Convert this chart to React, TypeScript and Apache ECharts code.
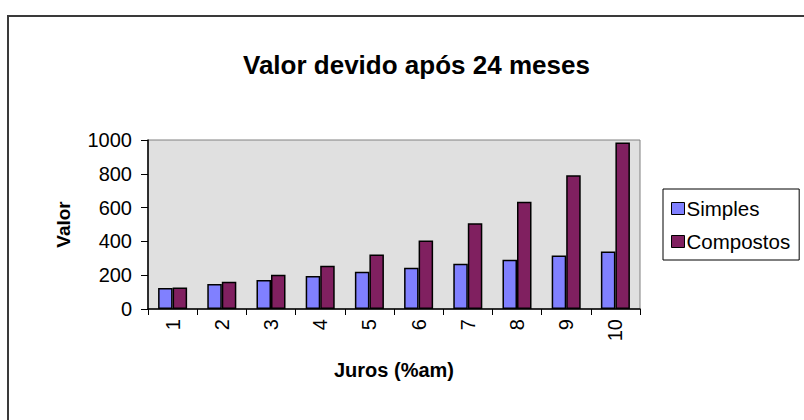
import React, { useEffect, useRef } from "react";
import * as echarts from "echarts";

const categories = ["1", "2", "3", "4", "5", "6", "7", "8", "9", "10"];
const simples = [124, 148, 172, 196, 220, 244, 268, 292, 316, 340];
const compostos = [127, 161, 203, 256, 323, 405, 507, 634, 791, 985];
const yTicks = { min: 0, max: 1000, interval: 200 };

export default function App() {
  const ref = useRef<HTMLDivElement>(null);
  useEffect(() => {
    if (!ref.current) return;
    const chart = echarts.init(ref.current, null, { renderer: "svg" });
    const font = "Arial, 'Liberation Sans', sans-serif";
    chart.setOption({
      animation: false,
      backgroundColor: "#fff",
      title: {
        text: "Valor devido após 24 meses",
        left: 238,
        top: 47,
        textStyle: { fontFamily: font, fontSize: 26, fontWeight: "bold", color: "#000" },
      },
      graphic: [
        {
          type: "rect",
          shape: { x: 8, y: 16, width: 1000, height: 1000 },
          style: { fill: "none", stroke: "#3a3a3a", lineWidth: 2 },
          silent: true,
        },
      ],
      legend: {
        orient: "vertical",
        left: 663,
        top: 189,
        width: 139,
        padding: [9, 9, 8, 8],
        itemGap: 12,
        itemWidth: 13,
        itemHeight: 12,
        icon: "rect",
        borderColor: "#000",
        borderWidth: 1,
        backgroundColor: "#fff",
        textStyle: { fontFamily: font, fontSize: 20.5, color: "#000", padding: [0, 0, 0, -3] },
        itemStyle: { borderColor: "#000", borderWidth: 1 },
        data: ["Simples", "Compostos"],
      },
      grid: {
        left: 148,
        right: 164,
        top: 140,
        bottom: 111,
        show: true,
        backgroundColor: "#E0E0E0",
        borderColor: "#808080",
        borderWidth: 1,
        containLabel: false,
      },
      xAxis: {
        type: "category",
        data: categories,
        name: "Juros (%am)",
        nameLocation: "middle",
        nameGap: 51,
        nameTextStyle: { fontFamily: font, fontSize: 20, fontWeight: "bold", color: "#000" },
        axisLine: { lineStyle: { color: "#000", width: 1.5 } },
        axisTick: { show: true, alignWithLabel: false, length: 6, lineStyle: { color: "#000" } },
        axisLabel: { rotate: 90, margin: 10, fontFamily: font, fontSize: 20, color: "#000" },
        splitLine: { show: false },
      },
      yAxis: {
        type: "value",
        min: yTicks.min,
        max: yTicks.max,
        interval: yTicks.interval,
        name: "Valor",
        nameLocation: "middle",
        nameRotate: 90,
        nameGap: 75,
        nameTextStyle: { fontFamily: font, fontSize: 19, fontWeight: "bold", color: "#000" },
        axisLine: { show: true, lineStyle: { color: "#000", width: 1.5 } },
        axisTick: { show: true, length: 7, lineStyle: { color: "#000" } },
        axisLabel: {
          margin: 16,
          fontFamily: font,
          fontSize: 20,
          color: "#000",
          formatter: (v: number) => String(v),
        },
        splitLine: { show: false },
      },
      series: [
        {
          name: "Simples",
          type: "bar",
          data: simples,
          barGap: "0%",
          barCategoryGap: "41%",
          itemStyle: { color: "#8080FF", borderColor: "#000", borderWidth: 1.5 },
        },
        {
          name: "Compostos",
          type: "bar",
          data: compostos,
          itemStyle: { color: "#802060", borderColor: "#000", borderWidth: 1.5 },
        },
      ],
    });
    return () => chart.dispose();
  }, []);
  return (
    <div
      ref={ref}
      style={{ position: "fixed", left: 0, top: 0, width: 804, height: 420 }}
    />
  );
}
